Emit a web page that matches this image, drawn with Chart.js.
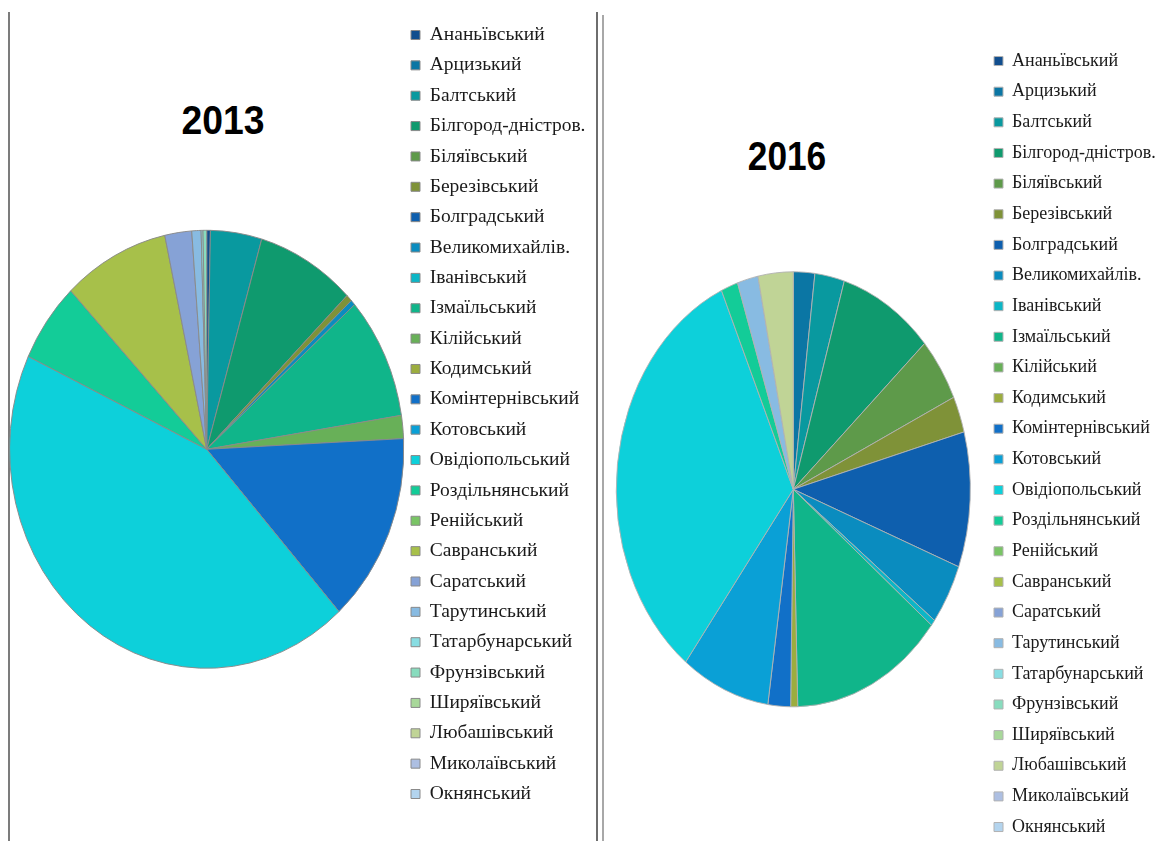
<!DOCTYPE html>
<html>
<head>
<meta charset="utf-8">
<script src="https://cdn.jsdelivr.net/npm/chart.js"></script>
<style>
  html, body { margin: 0; padding: 0; background: #fff; width: 1168px; height: 841px; overflow: hidden; }
  canvas { position: absolute; top: 0; }
  .vline { position: absolute; width: 0; }
  .year { position: absolute; width: 200px; text-align: center; font-family: "Liberation Sans", Arial, sans-serif;
          font-weight: bold; font-size: 41px; line-height: 41px; color: #000; }
</style>
</head>
<body>
<div class="vline" style="left:8px; top:12px; height:829px; border-left:2px solid #7c7c7c"></div>
<div class="vline" style="left:596px; top:12px; height:829px; border-left:2px solid #6e6e6e"></div>
<div class="vline" style="left:602px; top:15px; height:826px; border-left:2px solid #a8a8a8"></div>

<div class="year" style="left:123px; top:100px; transform:scaleX(0.91)">2013</div>
<div class="year" style="left:687px; top:136px; transform:scaleX(0.86)">2016</div>

<canvas id="pie2013"></canvas>
<canvas id="pie2016"></canvas>

<script>
// districts of Odesa oblast, legend order = slice order (clockwise from 12 o'clock)
const districts = [
  'Ананьївський', 'Арцизький', 'Балтський', 'Білгород-дністров.', 'Біляївський', 'Березівський',
  'Болградський', 'Великомихайлів.', 'Іванівський', 'Ізмаїльський', 'Кілійський', 'Кодимський',
  'Комінтернівський', 'Котовський', 'Овідіопольський', 'Роздільнянський', 'Ренійський', 'Савранський',
  'Саратський', 'Тарутинський', 'Татарбунарський', 'Фрунзівський', 'Ширяївський', 'Любашівський',
  'Миколаївський', 'Окнянський'
];

// shares, %
const share2013 = [0.3, 0, 4.2, 8.1, 0, 0.5, 0, 0.4, 0, 9.0, 1.7, 0, 14.05, 0, 43.65, 5.9, 0, 8.7, 2.2, 0.76, 0.15, 0.3, 0, 0, 0, 0];
const share2016 = [0, 1.95, 2.7, 8.65, 4.75, 2.7, 10.05, 4.5, 0.45, 13.85, 0, 0.64, 2.06, 8.1, 32.95, 1.55, 0, 0, 0, 1.9, 0, 0, 0, 3.2, 0, 0];

const palette = [
  '#114e8e', '#0b76a4', '#09999f', '#0f9a6e', '#5e9a4a', '#7f9238',
  '#0e5fae', '#0a8cbf', '#0cb6c6', '#10b58a', '#68b058', '#9cad3e',
  '#1170c8', '#0aa0d6', '#0dd0da', '#13cc98', '#79c465', '#a7c04a',
  '#86a2d6', '#88bbe2', '#88dde2', '#88dcbe', '#a8d89a', '#c0d496',
  '#adbfe2', '#b3d4ee'
];

const LEGEND_FONT = '"Liberation Serif", "Times New Roman", serif';

function widestLabel(size) {
  const c = document.createElement('canvas').getContext('2d');
  c.font = size + 'px ' + LEGEND_FONT;
  return Math.max(...districts.map(t => c.measureText(t).width));
}

// pie in the source is an ellipse: squeeze the arcs horizontally round the centre
const squash = {
  id: 'squash',
  beforeDatasetsDraw(chart, args, opts) {
    const arc = chart.getDatasetMeta(0).data[0];
    const ctx = chart.ctx;
    ctx.save();
    ctx.translate(arc.x, arc.y);
    ctx.scale(opts.sx, 1);
    ctx.translate(-arc.x, -arc.y);
  },
  afterDatasetsDraw(chart) { chart.ctx.restore(); }
};

function makePie(id, values, p) {
  const canvas = document.getElementById(id);
  const legendLeft = p.boxX - p.gap;
  const legendW = p.gap + p.box + p.font / 2 + widestLabel(p.font) + 10;
  const W = Math.ceil(legendLeft + legendW) + 2;
  const areaBottom = 2 * p.cy - p.legendTop;
  const H = Math.ceil(areaBottom) + 2;
  canvas.width = W; canvas.height = H;
  canvas.style.left = p.left + 'px';
  canvas.style.width = W + 'px'; canvas.style.height = H + 'px';

  new Chart(canvas, {
    type: 'pie',
    data: {
      labels: districts,
      datasets: [{
        data: values,
        backgroundColor: palette,
        borderColor: p.border,
        borderWidth: 1,
        radius: p.r,
      }]
    },
    options: {
      responsive: false,
      animation: false,
      layout: {
        padding: {
          left: 2 * p.cx - legendLeft,
          right: W - legendLeft - legendW,
          top: p.legendTop,
          bottom: H - areaBottom,
        }
      },
      plugins: {
        legend: {
          position: 'right', align: 'start',
          labels: {
            boxWidth: p.box, boxHeight: p.box, padding: p.gap, color: '#1a1a1a',
            font: { family: LEGEND_FONT, size: p.font },
          }
        },
        tooltip: { enabled: false },
        squash: { sx: p.sx },
      }
    },
    plugins: [squash]
  });
}

makePie('pie2013', share2013, { left: 0, cx: 206.7, cy: 449.3, r: 219, sx: 0.9, boxX: 411, box: 9, font: 19.5, gap: 10.86, legendTop: 14.4, border: '#8a8a8a' });
makePie('pie2016', share2016, { left: 604, cx: 189.3, cy: 489.3, r: 217.5, sx: 0.814, boxX: 390, box: 9, font: 18, gap: 12.64, legendTop: 39.4, border: '#b2b2b2' });
</script>
</body>
</html>
